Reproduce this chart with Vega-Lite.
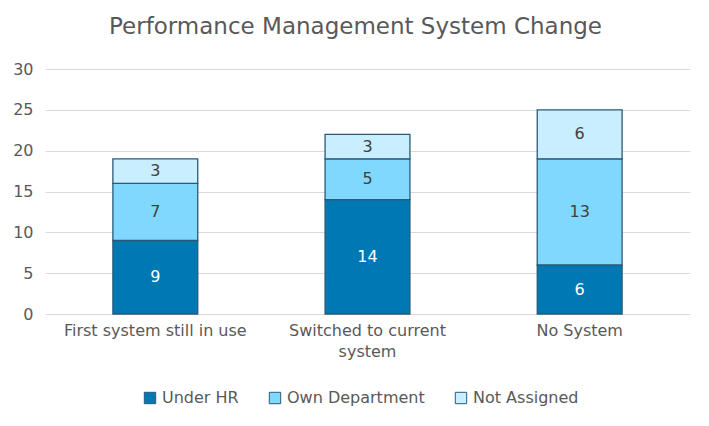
{
  "$schema": "https://vega.github.io/schema/vega-lite/v6.json",
  "autosize": {"type": "none"},
  "width": 645,
  "height": 245,
  "padding": {"left": 45, "top": 69, "right": 19, "bottom": 112},
  "background": "white",
  "title": {
    "text": "Performance Management System Change",
    "fontSize": 23,
    "font": "DejaVu Sans",
    "fontWeight": "normal",
    "color": "#595959",
    "anchor": "middle",
    "dx": -12,
    "offset": 22
  },
  "data": {
    "values": [
      {"category": "First system still in use", "series": "Under HR", "order": 1, "value": 9},
      {"category": "First system still in use", "series": "Own Department", "order": 2, "value": 7},
      {"category": "First system still in use", "series": "Not Assigned", "order": 3, "value": 3},
      {"category": "Switched to current system", "series": "Under HR", "order": 1, "value": 14},
      {"category": "Switched to current system", "series": "Own Department", "order": 2, "value": 5},
      {"category": "Switched to current system", "series": "Not Assigned", "order": 3, "value": 3},
      {"category": "No System", "series": "Under HR", "order": 1, "value": 6},
      {"category": "No System", "series": "Own Department", "order": 2, "value": 13},
      {"category": "No System", "series": "Not Assigned", "order": 3, "value": 6}
    ]
  },
  "transform": [
    {"stack": "value", "groupby": ["category"], "sort": [{"field": "order"}], "as": ["y0", "y1"]},
    {"calculate": "(datum.y0 + datum.y1) / 2", "as": "ymid"}
  ],
  "encoding": {
    "x": {
      "field": "category",
      "type": "nominal",
      "sort": ["First system still in use", "Switched to current system", "No System"],
      "scale": {"paddingInner": 0.6, "paddingOuter": 0.32},
      "axis": {
        "title": null,
        "labelAngle": 0,
        "labelFontSize": 16,
        "labelFont": "DejaVu Sans",
        "labelColor": "#595959",
        "labelPadding": 8,
        "labelLineHeight": 21,
        "labelLimit": 300,
        "labelExpr": "datum.label == 'Switched to current system' ? ['Switched to current', 'system'] : datum.label",
        "domain": false,
        "ticks": false
      }
    }
  },
  "layer": [
    {
      "mark": {"type": "bar", "stroke": "#2a5a78", "strokeWidth": 1.3},
      "encoding": {
        "y": {
          "field": "y0",
          "type": "quantitative",
          "scale": {"domain": [0, 30]},
          "axis": {
            "title": null,
            "values": [0, 5, 10, 15, 20, 25, 30],
            "labelFontSize": 16,
            "labelFont": "DejaVu Sans",
            "labelColor": "#595959",
            "labelPadding": 12,
            "domain": false,
            "ticks": false,
            "gridColor": "#d9d9d9",
            "gridWidth": 1
          }
        },
        "y2": {"field": "y1"},
        "color": {
          "field": "series",
          "type": "nominal",
          "scale": {
            "domain": ["Under HR", "Own Department", "Not Assigned"],
            "range": ["#0078b4", "#80d8ff", "#c9eeff"]
          },
          "legend": {
            "title": null,
            "orient": "none",
            "legendX": 97,
            "legendY": 321,
            "direction": "horizontal",
            "symbolType": "square",
            "symbolSize": 130,
            "symbolStrokeColor": "#2a5a78",
            "symbolStrokeWidth": 1,
            "labelFontSize": 16,
            "labelFont": "DejaVu Sans",
            "labelColor": "#595959",
            "columnPadding": 28,
            "labelOffset": 4
          }
        }
      }
    },
    {
      "mark": {"type": "text", "fontSize": 16, "font": "DejaVu Sans"},
      "encoding": {
        "y": {"field": "ymid", "type": "quantitative"},
        "text": {"field": "value", "type": "quantitative"},
        "color": {
          "condition": {"test": "datum.series == 'Under HR'", "value": "white"},
          "value": "#404040"
        }
      }
    }
  ],
  "config": {"view": {"stroke": null}}
}
